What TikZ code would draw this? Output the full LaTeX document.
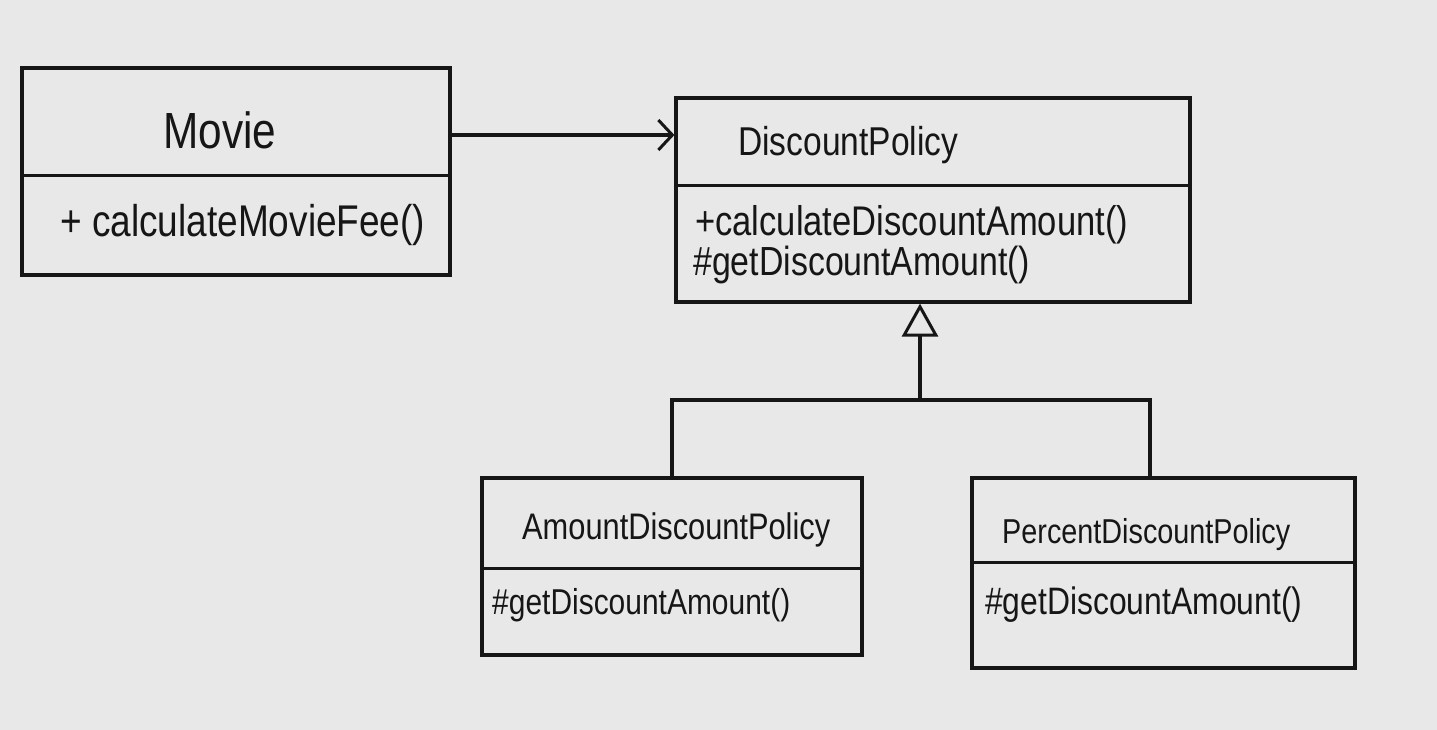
\documentclass[tikz,border=0pt]{standalone}
\usepackage{fontspec}
\setmainfont{Liberation Sans}
\usetikzlibrary{arrows.meta}
\definecolor{paper}{RGB}{232,232,232}
\definecolor{ink}{RGB}{22,22,22}
\newcommand\fitw[2]{\scalebox{1}[1.2]{\resizebox{#1pt}{!}{#2}}}
\tikzset{
  cls/.style={draw=ink, line width=3.2pt, rectangle, inner sep=0pt},
  sep/.style={draw=ink, line width=3pt},
  lbl/.style={inner sep=0pt, text=ink},
  conn/.style={draw=ink, line width=3.2pt},
  assoc/.style={conn, -{Straight Barb[length=14pt,width=30pt,line width=3pt]}},
  inherit/.style={conn, -{Triangle[open,length=33pt,width=36pt,line width=3pt]}}
}
\begin{document}
\begin{tikzpicture}[x=1pt,y=-1pt]
\fill[paper] (0,0) rectangle (1437,730);
\useasboundingbox (0,0) rectangle (1437,730);
% classes
\node[cls, minimum width=428pt, minimum height=207pt] (movie) at (236,171.5) {};
\node[cls, minimum width=514pt, minimum height=204pt] (dp) at (933,200) {};
\node[cls, minimum width=380pt, minimum height=177pt] (ad) at (672,566.5) {};
\node[cls, minimum width=383pt, minimum height=190pt] (pd) at (1163.5,573) {};
% dividers
\draw[sep] (movie.west |- 0,176) -- (movie.east |- 0,176);
\draw[sep] (dp.west |- 0,186) -- (dp.east |- 0,186);
\draw[sep] (ad.west |- 0,568) -- (ad.east |- 0,568);
\draw[sep] (pd.west |- 0,562) -- (pd.east |- 0,562);
% texts
\node[lbl] (tmovie) at (220,130) {\fitw{113}{Movie}};
\node[lbl, anchor=west] (mmovie) at (60,225) {\fitw{365}{+ calculateMovieFee()}};
\node[lbl, anchor=west] (tdp) at (738,145) {\fitw{220}{DiscountPolicy}};
\node[lbl, anchor=west] (mdp1) at (695,225) {\fitw{433}{+calculateDiscountAmount()}};
\node[lbl, anchor=west] (mdp2) at (693,265) {\fitw{337}{\#getDiscountAmount()}};
\node[lbl, anchor=west] (tad) at (522,530) {\fitw{308}{AmountDiscountPolicy}};
\node[lbl, anchor=west] (mad) at (492,605) {\fitw{298}{\#getDiscountAmount()}};
\node[lbl, anchor=west] (tpd) at (1002,535) {\fitw{288}{PercentDiscountPolicy}};
\node[lbl, anchor=west] (mpd) at (985,605) {\fitw{317}{\#getDiscountAmount()}};
% association
\draw[assoc] ([yshift=36.5pt]movie.east) -- ([yshift=36.5pt]movie.east -| dp.west);
% inheritance
\coordinate (j) at (920,400);
\draw[conn] (ad.north) |- ([xshift=-13.5pt]pd.north |- j) -- ([xshift=-13.5pt]pd.north);
\draw[inherit] (j) -- (j |- dp.south);
\end{tikzpicture}
\end{document}
